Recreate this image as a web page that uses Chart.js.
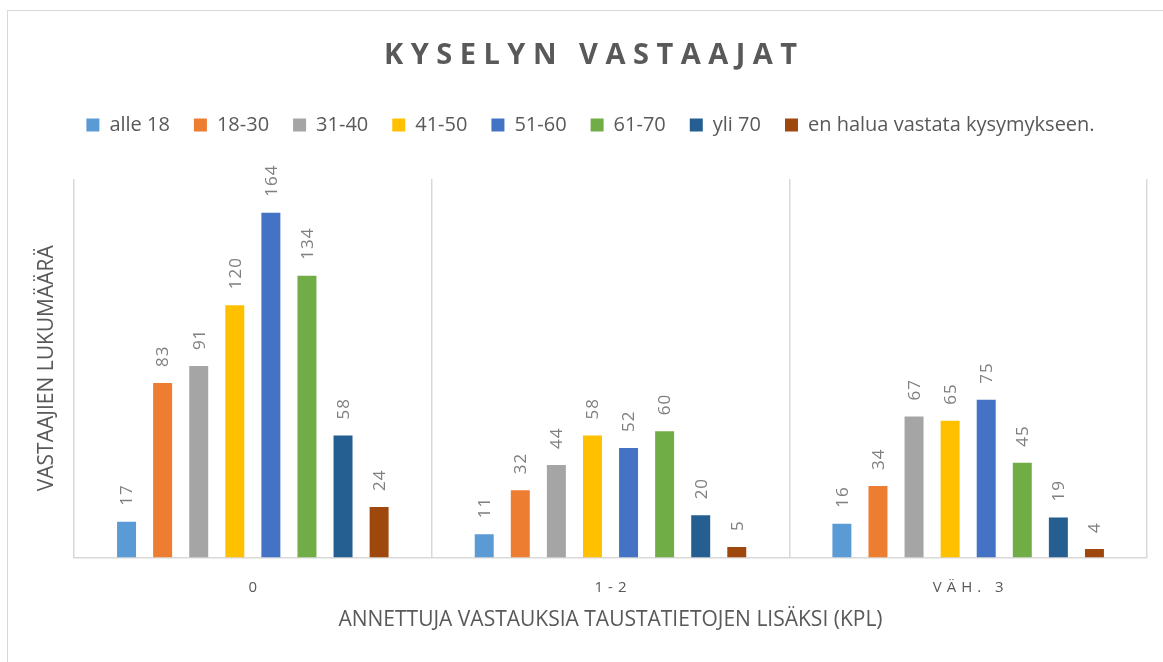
<!DOCTYPE html>
<html>
<head>
<meta charset="utf-8">
<script src="https://cdn.jsdelivr.net/npm/chart.js@4.4.1/dist/chart.umd.min.js"></script>
<style>
  html, body { margin: 0; padding: 0; background: #ffffff; overflow: hidden; }
  #wrap { position: relative; width: 1163px; height: 662px; }
  #frame { position: absolute; left: 7px; top: 10px; width: 1200px; height: 700px; border: 1px solid #d9d9d9; box-sizing: border-box; }
  #c { position: absolute; left: 0; top: 0; }
</style>
</head>
<body>
<div id="wrap">
  <div id="frame"></div>
  <canvas id="c" width="1163" height="662"></canvas>
</div>
<script>
// ---- data ----
const titleText = 'KYSELYN VASTAAJAT';
const yAxisTitle = 'VASTAAJIEN LUKUMÄÄRÄ';
const xAxisTitle = 'ANNETTUJA VASTAUKSIA TAUSTATIETOJEN LISÄKSI (KPL)';
const categories = ['0', '1-2', 'VÄH. 3'];
const seriesNames = ['alle 18', '18-30', '31-40', '41-50', '51-60', '61-70', 'yli 70', 'en halua vastata kysymykseen.'];
const alle18 = [17, 11, 16];
const v18_30 = [83, 32, 34];
const v31_40 = [91, 44, 67];
const v41_50 = [120, 58, 65];
const v51_60 = [164, 52, 75];
const v61_70 = [134, 60, 45];
const yli70 = [58, 20, 19];
const enHalua = [24, 5, 4];
const seriesValues = [alle18, v18_30, v31_40, v41_50, v51_60, v61_70, yli70, enHalua];
const seriesColors = ['#5B9BD5', '#ED7D31', '#A5A5A5', '#FFC000', '#4472C4', '#70AD47', '#255E91', '#9E480E'];
const yMin = 0;
const yMax = 180;

// ---- style constants ----
const FONT = '"Open Sans", "Noto Sans", sans-serif';
const TEXT_GRAY = '#595959';
const LABEL_GRAY = '#7f7f7f';
const TITLE_SIZE = 29;
const TITLE_PAD = { top: 28.6, bottom: 17.6 };
const TICK_SIZE = 15;
const TICK_OFFSET = 30;   // centre of category labels below the axis line
const AXIS_TITLE_SIZE = 21;

const spacedText = {
  id: 'spacedText',
  afterDraw(chart) {
    const ctx = chart.ctx;
    // Title with letter spacing
    ctx.save();
    const tb = chart.titleBlock;
    ctx.font = 'bold ' + TITLE_SIZE + 'px ' + FONT;
    ctx.fillStyle = TEXT_GRAY;
    ctx.textBaseline = 'middle';
    ctx.textAlign = 'left';
    const tls = 7.5;
    ctx.letterSpacing = tls + 'px';
    const tw = ctx.measureText(titleText).width - tls;
    const tcx = (tb.left + tb.right) / 2;
    const tcy = tb.top + TITLE_PAD.top + TITLE_SIZE * 1.2 / 2;
    ctx.fillText(titleText, tcx - tw / 2, tcy);
    ctx.restore();

    // Category labels with letter spacing
    const xs = chart.scales.x;
    ctx.save();
    ctx.font = TICK_SIZE + 'px ' + FONT;
    ctx.fillStyle = TEXT_GRAY;
    ctx.textBaseline = 'middle';
    ctx.textAlign = 'left';
    const kls = 5;
    ctx.letterSpacing = kls + 'px';
    categories.forEach((lab, i) => {
      const w = ctx.measureText(lab).width - kls;
      const x = xs.getPixelForTick(i);
      ctx.fillText(lab, x - w / 2, xs.top + TICK_OFFSET);
    });
    ctx.restore();

    // Rotated data labels
    ctx.save();
    ctx.font = '17px ' + FONT;
    ctx.fillStyle = LABEL_GRAY;
    ctx.textBaseline = 'middle';
    ctx.textAlign = 'left';
    ctx.letterSpacing = '1px';
    chart.data.datasets.forEach((ds, di) => {
      const meta = chart.getDatasetMeta(di);
      meta.data.forEach((bar, j) => {
        ctx.save();
        ctx.translate(bar.x + 1, bar.y - 16);
        ctx.rotate(-Math.PI / 2);
        ctx.fillText(String(ds.data[j]), 0, 0);
        ctx.restore();
      });
    });
    ctx.restore();
  }
};

function build() {
  const datasets = seriesNames.map((name, i) => ({
    label: name,
    data: seriesValues[i],
    backgroundColor: seriesColors[i],
    borderWidth: 0,
    categoryPercentage: 0.807,
    barPercentage: 0.526
  }));

  new Chart(document.getElementById('c'), {
    type: 'bar',
    data: { labels: categories, datasets },
    options: {
      responsive: false,
      animation: false,
      devicePixelRatio: 1,
      layout: { padding: { top: 10, left: 34, right: 16, bottom: 20 } },
      plugins: {
        title: {
          display: true,
          text: titleText,
          color: 'rgba(0,0,0,0)',
          font: { family: FONT, size: TITLE_SIZE, weight: 'bold' },
          padding: TITLE_PAD
        },
        subtitle: {
          display: true,
          text: '',
          weight: 500,
          font: { family: FONT, size: 10 },
          padding: { top: 0, bottom: 22 }
        },
        legend: {
          display: true,
          position: 'top',
          labels: {
            color: TEXT_GRAY,
            font: { family: FONT, size: 20 },
            boxWidth: 13,
            boxHeight: 13,
            padding: 24
          }
        },
        tooltip: { enabled: false }
      },
      scales: {
        x: {
          offset: true,
          grid: { display: true, offset: true, color: '#d9d9d9', lineWidth: 1.5, drawTicks: false },
          border: { display: true, color: '#d9d9d9', width: 1.5 },
          ticks: { color: 'rgba(0,0,0,0)', font: { family: FONT, size: TICK_SIZE }, padding: 10.5 },
          title: {
            display: true,
            text: xAxisTitle,
            color: TEXT_GRAY,
            font: { family: FONT, size: AXIS_TITLE_SIZE },
            padding: { top: 11, bottom: 9.4 }
          }
        },
        y: {
          min: yMin,
          max: yMax,
          grid: { display: false, drawTicks: false },
          border: { display: false },
          ticks: { display: false },
          title: {
            display: true,
            text: yAxisTitle,
            color: TEXT_GRAY,
            font: { family: FONT, size: AXIS_TITLE_SIZE },
            padding: { top: 0.4, bottom: 14.4 }
          }
        }
      }
    },
    plugins: [spacedText]
  });
}

Promise.all([
  document.fonts.load('20px "Open Sans"'),
  document.fonts.load('bold 29px "Open Sans"')
]).catch(() => {}).then(build);
</script>
</body>
</html>
